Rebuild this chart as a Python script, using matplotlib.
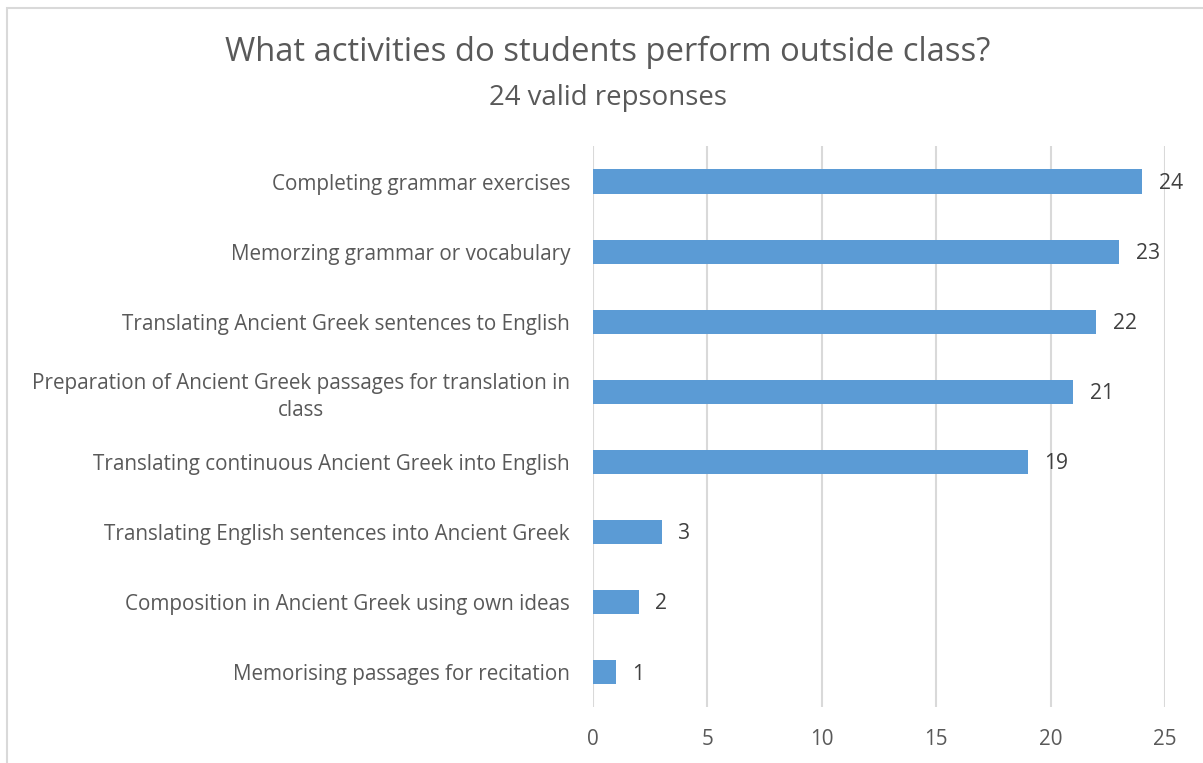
import matplotlib
matplotlib.use('Agg')
import matplotlib.pyplot as plt
from matplotlib.patches import Rectangle

plt.rcParams['font.family'] = ['Open Sans', 'DejaVu Sans']

# Data (top to bottom as shown)
activities = [
    'Completing grammar exercises',
    'Memorzing grammar or vocabulary',
    'Translating Ancient Greek sentences to English',
    'Preparation of Ancient Greek passages for translation in\nclass',
    'Translating continuous Ancient Greek into English',
    'Translating English sentences into Ancient Greek',
    'Composition in Ancient Greek using own ideas',
    'Memorising passages for recitation',
]
counts = [24, 23, 22, 21, 19, 3, 2, 1]
xticks = [0, 5, 10, 15, 20, 25]

title = 'What activities do students perform outside class?'
subtitle = '24 valid repsonses'

text_col = '#595959'
bar_col = '#5b9bd5'
grid_col = '#d9d9d9'

fig = plt.figure(figsize=(12.03, 7.63), dpi=100)
ax = fig.add_axes([0.4929, 0.0734, 0.4755, 0.7346])

ypos = list(range(len(activities)))
ax.barh(ypos, counts, height=0.345, color=bar_col, zorder=3)
ax.set_ylim(len(activities) - 0.5, -0.5)
ax.set_xlim(0, 25)
ax.set_xticks(xticks)
ax.set_yticks(ypos)
ax.set_yticklabels(activities, multialignment='center', linespacing=1.35)
ax.tick_params(axis='both', length=0, labelsize=14.9, colors=text_col)
ax.tick_params(axis='y', pad=16.5)
ax.tick_params(axis='x', pad=16)
for s in ax.spines.values():
    s.set_visible(False)
ax.xaxis.grid(True, color=grid_col, linewidth=1.5, zorder=0)

for y, v in zip(ypos, counts):
    ax.annotate(str(v), (v, y), xytext=(12, -1.5), textcoords='offset points',
                va='center', ha='left', fontsize=15.2, color='#404040')

fig.text(0.5055, 0.932, title, ha='center', va='center', fontsize=23.6, color=text_col)
fig.text(0.5055, 0.872, subtitle, ha='center', va='center', fontsize=19.9, color=text_col)

# chart border (cropped on right/bottom)
fig.patches.append(Rectangle((7 / 1203, -0.1), 1.2, 1 - 8 / 763 + 0.1,
                             transform=fig.transFigure, fill=False,
                             edgecolor=grid_col, linewidth=1.5))

fig.savefig('out.png', dpi=100)
